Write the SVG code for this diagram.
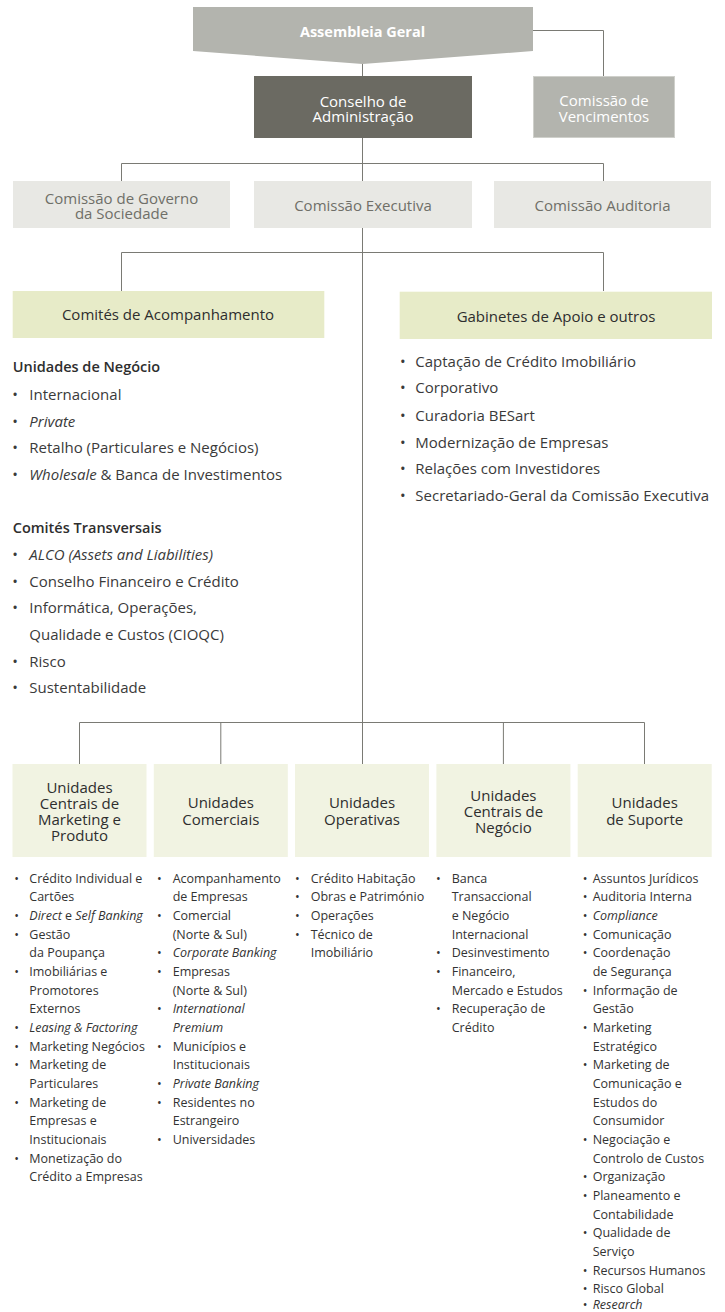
<svg xmlns="http://www.w3.org/2000/svg" width="725" height="1312" viewBox="0 0 725 1312">
<style>
text{font-family:"Open Sans","Noto Sans","Liberation Sans",sans-serif}
.ln{stroke:#7a7a74;stroke-width:1;fill:none}
.t15{font-size:15px}
.c{text-anchor:middle}
.w{fill:#ffffff}
.g{fill:#6f6f68}
.li{font-size:15px;fill:#3a3a3a}
.hd{font-size:14.5px;font-weight:600;fill:#2e2e2e}
.sm{font-size:12.5px;fill:#333333}
.ct{font-size:15px;fill:#2e2e2e;text-anchor:middle}
.b{text-anchor:middle}
.it{font-style:italic}
.gb{fill:#e8e8e4}
.gr{fill:#e7ebc8}
.gl{fill:#f1f3e2}
</style>
<g id="connectors">
<path class="ln" d="M362.5 64V76M362.5 138V181M362.5 228V764"/>
<path class="ln" d="M533 30.5H603.5V76"/>
<path class="ln" d="M121.5 181V163.5H603.5V181"/>
<path class="ln" d="M121.5 291V252.5H603.5V291"/>
<path class="ln" d="M79.5 764V722.5H644.5V764M220.8 722.5V764M503.4 722.5V764"/>
</g>
<g id="assembleia">
<polygon points="193,7 533,7 533,51 362.5,64 193,51" fill="#b3b4ae"/>
<text class="c w" x="362.5" y="36.7" style="font-size:14.5px;font-weight:700">Assembleia Geral</text>
</g>
<g id="conselho">
<rect x="254" y="76" width="218" height="62" fill="#6b6a62"/>
<text class="t15 c w" x="363" y="106.7"><tspan x="363">Conselho de</tspan><tspan x="363" dy="15.6">Administração</tspan></text>
</g>
<g id="vencimentos">
<rect x="533.5" y="76.5" width="141" height="61" fill="#b3b4ae" stroke="#cfd0cb" stroke-width="1"/>
<text class="t15 c w" x="604" y="106"><tspan x="604">Comissão de</tspan><tspan x="604" dy="16">Vencimentos</tspan></text>
</g>
<g id="governo">
<rect x="13" y="181" width="217" height="47" class="gb"/>
<text class="t15 c g" x="121.5" y="203.5"><tspan x="121.5">Comissão de Governo</tspan><tspan x="121.5" dy="15">da Sociedade</tspan></text>
</g>
<g id="executiva">
<rect x="254" y="181" width="218" height="47" class="gb"/>
<text class="t15 c g" x="363" y="210.7">Comissão Executiva</text>
</g>
<g id="auditoria">
<rect x="494" y="181" width="217" height="47" class="gb"/>
<text class="t15 c g" x="602.5" y="210.7">Comissão Auditoria</text>
</g>
<g id="comites">
<rect x="12.7" y="291" width="311.6" height="47" class="gr"/>
<text class="ct" x="168" y="320">Comités de Acompanhamento</text>
<text class="hd" x="12.7" y="372">Unidades de Negócio</text>
<text class="li b" x="15" y="400">•</text><text class="li" x="29.3" y="400">Internacional</text>
<text class="li b" x="15" y="426.7">•</text><text class="li it" x="29.3" y="426.7">Private</text>
<text class="li b" x="15" y="453.3">•</text><text class="li" x="29.3" y="453.3">Retalho (Particulares e Negócios)</text>
<text class="li b" x="15" y="480">•</text><text class="li" x="29.3" y="480"><tspan class="it">Wholesale</tspan> &amp; Banca de Investimentos</text>
<text class="hd" x="12.7" y="533.3">Comités Transversais</text>
<text class="li b" x="15" y="560">•</text><text class="li it" x="29.3" y="560">ALCO (Assets and Liabilities)</text>
<text class="li b" x="15" y="586.7">•</text><text class="li" x="29.3" y="586.7">Conselho Financeiro e Crédito</text>
<text class="li b" x="15" y="613.3">•</text><text class="li" x="29.3" y="613.3">Informática, Operações,</text>
<text class="li" x="29.3" y="640">Qualidade e Custos (CIOQC)</text>
<text class="li b" x="15" y="666.7">•</text><text class="li" x="29.3" y="666.7">Risco</text>
<text class="li b" x="15" y="693.3">•</text><text class="li" x="29.3" y="693.3">Sustentabilidade</text>
</g>
<g id="gabinetes">
<rect x="399.7" y="291.7" width="312.3" height="47.3" class="gr"/>
<text class="ct" x="556" y="321.7">Gabinetes de Apoio e outros</text>
<text class="li b" x="402.7" y="366.7">•</text><text class="li" x="415.3" y="366.7">Captação de Crédito Imobiliário</text>
<text class="li b" x="402.7" y="393.3">•</text><text class="li" x="415.3" y="393.3">Corporativo</text>
<text class="li b" x="402.7" y="421">•</text><text class="li" x="415.3" y="421">Curadoria BESart</text>
<text class="li b" x="402.7" y="447.7">•</text><text class="li" x="415.3" y="447.7">Modernização de Empresas</text>
<text class="li b" x="402.7" y="474.3">•</text><text class="li" x="415.3" y="474.3">Relações com Investidores</text>
<text class="li b" x="402.7" y="501">•</text><text class="li" x="415.3" y="501">Secretariado-Geral da Comissão Executiva</text>
</g>
<g id="col-marketing">
<rect x="12.5" y="764" width="134" height="93" class="gl"/>
<text class="ct" x="79.5" y="793.3"><tspan x="79.5">Unidades</tspan><tspan x="79.5" dy="15.8">Centrais de</tspan><tspan x="79.5" dy="16">Marketing e</tspan><tspan x="79.5" dy="16">Produto</tspan></text>
<text class="sm b" x="16.7" y="882.5">•</text><text class="sm" x="29.3" y="882.5">Crédito Individual e</text>
<text class="sm" x="29.3" y="901.2">Cartões</text>
<text class="sm b" x="16.7" y="919.8">•</text><text class="sm" x="29.3" y="919.8"><tspan class="it">Direct</tspan> e <tspan class="it">Self Banking</tspan></text>
<text class="sm b" x="16.7" y="938.5">•</text><text class="sm" x="29.3" y="938.5">Gestão</text>
<text class="sm" x="29.3" y="957.2">da Poupança</text>
<text class="sm b" x="16.7" y="975.9">•</text><text class="sm" x="29.3" y="975.9">Imobiliárias e</text>
<text class="sm" x="29.3" y="994.5">Promotores</text>
<text class="sm" x="29.3" y="1013.2">Externos</text>
<text class="sm b" x="16.7" y="1031.9">•</text><text class="sm it" x="29.3" y="1031.9">Leasing &amp; Factoring</text>
<text class="sm b" x="16.7" y="1050.5">•</text><text class="sm" x="29.3" y="1050.5">Marketing Negócios</text>
<text class="sm b" x="16.7" y="1069.2">•</text><text class="sm" x="29.3" y="1069.2">Marketing de</text>
<text class="sm" x="29.3" y="1087.9">Particulares</text>
<text class="sm b" x="16.7" y="1106.5">•</text><text class="sm" x="29.3" y="1106.5">Marketing de</text>
<text class="sm" x="29.3" y="1125.2">Empresas e</text>
<text class="sm" x="29.3" y="1143.9">Institucionais</text>
<text class="sm b" x="16.7" y="1162.6">•</text><text class="sm" x="29.3" y="1162.6">Monetização do</text>
<text class="sm" x="29.3" y="1181.2">Crédito a Empresas</text>
</g>
<g id="col-comerciais">
<rect x="153.8" y="764" width="134" height="93" class="gl"/>
<text class="ct" x="220.8" y="808.3"><tspan x="220.8">Unidades</tspan><tspan x="220.8" dy="16.7">Comerciais</tspan></text>
<text class="sm b" x="159.3" y="882.5">•</text><text class="sm" x="172.7" y="882.5">Acompanhamento</text>
<text class="sm" x="172.7" y="901.2">de Empresas</text>
<text class="sm b" x="159.3" y="919.8">•</text><text class="sm" x="172.7" y="919.8">Comercial</text>
<text class="sm" x="172.7" y="938.5">(Norte &amp; Sul)</text>
<text class="sm b" x="159.3" y="957.2">•</text><text class="sm it" x="172.7" y="957.2">Corporate Banking</text>
<text class="sm b" x="159.3" y="975.9">•</text><text class="sm" x="172.7" y="975.9">Empresas</text>
<text class="sm" x="172.7" y="994.5">(Norte &amp; Sul)</text>
<text class="sm b" x="159.3" y="1013.2">•</text><text class="sm it" x="172.7" y="1013.2">International</text>
<text class="sm it" x="172.7" y="1031.9">Premium</text>
<text class="sm b" x="159.3" y="1050.5">•</text><text class="sm" x="172.7" y="1050.5">Municípios e</text>
<text class="sm" x="172.7" y="1069.2">Institucionais</text>
<text class="sm b" x="159.3" y="1087.9">•</text><text class="sm it" x="172.7" y="1087.9">Private Banking</text>
<text class="sm b" x="159.3" y="1106.5">•</text><text class="sm" x="172.7" y="1106.5">Residentes no</text>
<text class="sm" x="172.7" y="1125.2">Estrangeiro</text>
<text class="sm b" x="159.3" y="1143.9">•</text><text class="sm" x="172.7" y="1143.9">Universidades</text>
</g>
<g id="col-operativas">
<rect x="295" y="764" width="134" height="93" class="gl"/>
<text class="ct" x="362" y="808.3"><tspan x="362">Unidades</tspan><tspan x="362" dy="16.7">Operativas</tspan></text>
<text class="sm b" x="297.3" y="882.5">•</text><text class="sm" x="310.7" y="882.5">Crédito Habitação</text>
<text class="sm b" x="297.3" y="901.2">•</text><text class="sm" x="310.7" y="901.2">Obras e Património</text>
<text class="sm b" x="297.3" y="919.8">•</text><text class="sm" x="310.7" y="919.8">Operações</text>
<text class="sm b" x="297.3" y="938.5">•</text><text class="sm" x="310.7" y="938.5">Técnico de</text>
<text class="sm" x="310.7" y="957.2">Imobiliário</text>
</g>
<g id="col-negocio">
<rect x="436.4" y="764" width="134" height="93" class="gl"/>
<text class="ct" x="503.4" y="801"><tspan x="503.4">Unidades</tspan><tspan x="503.4" dy="16">Centrais de</tspan><tspan x="503.4" dy="16">Negócio</tspan></text>
<text class="sm b" x="438.3" y="882.5">•</text><text class="sm" x="451.7" y="882.5">Banca</text>
<text class="sm" x="451.7" y="901.2">Transaccional</text>
<text class="sm" x="451.7" y="919.8">e Negócio</text>
<text class="sm" x="451.7" y="938.5">Internacional</text>
<text class="sm b" x="438.3" y="957.2">•</text><text class="sm" x="451.7" y="957.2">Desinvestimento</text>
<text class="sm b" x="438.3" y="975.9">•</text><text class="sm" x="451.7" y="975.9">Financeiro,</text>
<text class="sm" x="451.7" y="994.5">Mercado e Estudos</text>
<text class="sm b" x="438.3" y="1013.2">•</text><text class="sm" x="451.7" y="1013.2">Recuperação de</text>
<text class="sm" x="451.7" y="1031.9">Crédito</text>
</g>
<g id="col-suporte">
<rect x="577.7" y="764" width="134" height="93" class="gl"/>
<text class="ct" x="644.7" y="808.3"><tspan x="644.7">Unidades</tspan><tspan x="644.7" dy="16.7">de Suporte</tspan></text>
<text class="sm b" x="585" y="882.5">•</text><text class="sm" x="592.7" y="882.5">Assuntos Jurídicos</text>
<text class="sm b" x="585" y="901.2">•</text><text class="sm" x="592.7" y="901.2">Auditoria Interna</text>
<text class="sm b" x="585" y="919.8">•</text><text class="sm it" x="592.7" y="919.8">Compliance</text>
<text class="sm b" x="585" y="938.5">•</text><text class="sm" x="592.7" y="938.5">Comunicação</text>
<text class="sm b" x="585" y="957.2">•</text><text class="sm" x="592.7" y="957.2">Coordenação</text>
<text class="sm" x="592.7" y="975.9">de Segurança</text>
<text class="sm b" x="585" y="994.5">•</text><text class="sm" x="592.7" y="994.5">Informação de</text>
<text class="sm" x="592.7" y="1013.2">Gestão</text>
<text class="sm b" x="585" y="1031.9">•</text><text class="sm" x="592.7" y="1031.9">Marketing</text>
<text class="sm" x="592.7" y="1050.5">Estratégico</text>
<text class="sm b" x="585" y="1069.2">•</text><text class="sm" x="592.7" y="1069.2">Marketing de</text>
<text class="sm" x="592.7" y="1087.9">Comunicação e</text>
<text class="sm" x="592.7" y="1106.5">Estudos do</text>
<text class="sm" x="592.7" y="1125.2">Consumidor</text>
<text class="sm b" x="585" y="1143.9">•</text><text class="sm" x="592.7" y="1143.9">Negociação e</text>
<text class="sm" x="592.7" y="1162.6">Controlo de Custos</text>
<text class="sm b" x="585" y="1181.2">•</text><text class="sm" x="592.7" y="1181.2">Organização</text>
<text class="sm b" x="585" y="1199.9">•</text><text class="sm" x="592.7" y="1199.9">Planeamento e</text>
<text class="sm" x="592.7" y="1218.6">Contabilidade</text>
<text class="sm b" x="585" y="1237.2">•</text><text class="sm" x="592.7" y="1237.2">Qualidade de</text>
<text class="sm" x="592.7" y="1255.9">Serviço</text>
<text class="sm b" x="585" y="1274.6">•</text><text class="sm" x="592.7" y="1274.6">Recursos Humanos</text>
<text class="sm b" x="585" y="1293.2">•</text><text class="sm" x="592.7" y="1293.2">Risco Global</text>
<text class="sm b" x="585" y="1309">•</text><text class="sm it" x="592.7" y="1309">Research</text>
</g>
</svg>
